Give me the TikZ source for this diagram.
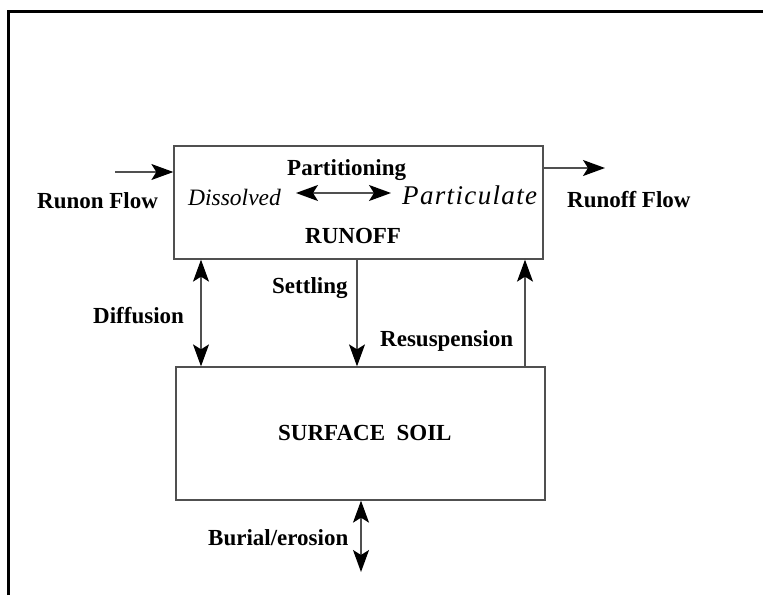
\documentclass[tikz,border=0pt]{standalone}
\usepackage{fontspec}
\setmainfont{Liberation Serif}
\usetikzlibrary{arrows.meta}
\definecolor{linegray}{HTML}{505050}
\tikzset{
  box/.style={draw=linegray, line width=1.3pt, inner sep=0pt, rectangle},
  lbl/.style={anchor=base west, inner sep=0pt, font=\fontsize{23}{26}\selectfont\bfseries},
  itl/.style={anchor=base west, inner sep=0pt, font=\fontsize{23.5}{26}\selectfont\itshape},
  conn/.style={draw=linegray, line width=1.3pt},
  one/.style={conn, -{Stealth[length=22pt,width=16pt,inset=5pt,black]}},
  two/.style={conn, {Stealth[length=22pt,width=16pt,inset=5pt,black]}-{Stealth[length=22pt,width=16pt,inset=5pt,black]}}
}
\begin{document}
\begin{tikzpicture}[x=1pt, y=-1pt]
\useasboundingbox (0,0) rectangle (763,595);
% outer frame (top and left edges)
\draw[line width=3pt] (8.5,595) -- (8.5,11.5) -- (763,11.5);

% compartments
\node[box, minimum width=369pt, minimum height=113pt] (runoff) at (358.5,202.5) {};
\node[box, minimum width=369pt, minimum height=133pt] (soil) at (360.5,433.5) {};

% texts inside the compartments
\node[lbl] (part) at (287,175) {Partitioning};
\node[itl] (diss) at (188,205) {Dissolved};
\node[itl, font=\fontsize{27}{30}\selectfont\itshape\addfontfeature{LetterSpace=5}] (partic) at (402,204) {Particulate};
\node[lbl] (rlabel) at (305,243) {RUNOFF};
\node[lbl] (slabel) at (278,440) {SURFACE\ \ SOIL};

% side labels
\node[lbl] (runon) at (37,208) {Runon Flow};
\node[lbl] (runofff) at (567,207) {Runoff Flow};
\node[lbl] (settl) at (272,293) {Settling};
\node[lbl] (diff) at (93,323) {Diffusion};
\node[lbl] (resus) at (380,346) {Resuspension};
\node[lbl] (burial) at (208,545) {Burial/erosion};

% free ends and guide positions
\coordinate (inflow) at (115,172);
\coordinate (outflow) at (605,168);
\coordinate (pa) at (296,193);
\coordinate (pb) at (391,193);
\coordinate (xdiff) at (201,0);
\coordinate (xsettl) at (357,0);
\coordinate (xresus) at (525,0);
\coordinate (deep) at (361,572);

% connectors
\draw[one] (inflow) -- (inflow -| runoff.west);
\draw[one] (outflow -| runoff.east) -- (outflow);
\draw[two] (pa) -- (pb);
\draw[two] (runoff.south -| xdiff) -- (soil.north -| xdiff);
\draw[one] (runoff.south -| xsettl) -- (soil.north -| xsettl);
\draw[one] (soil.north -| xresus) -- (runoff.south -| xresus);
\draw[two] (soil.south -| deep) -- (deep);
\end{tikzpicture}
\end{document}
